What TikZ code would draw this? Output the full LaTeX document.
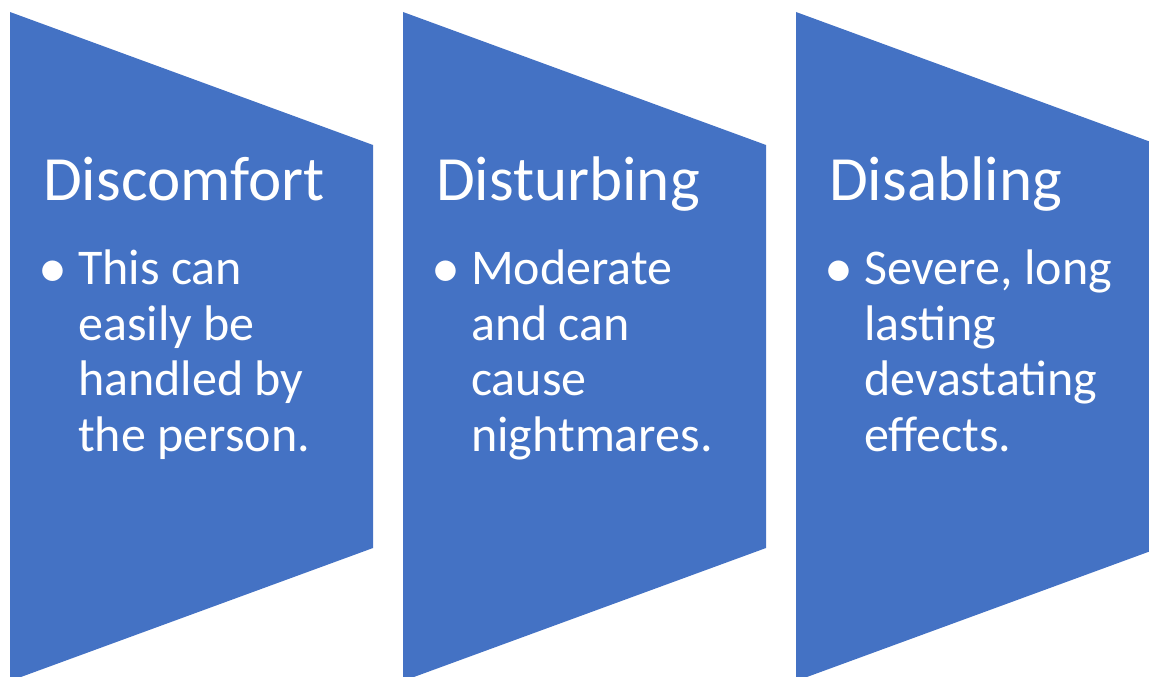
\documentclass[tikz,border=0pt]{standalone}
\usepackage{fontspec}
\setmainfont{Carlito}
\definecolor{stepblue}{HTML}{4472C4}
\begin{document}
\begin{tikzpicture}[x=1pt,y=-1pt,
  chevshape/.style={fill=stepblue,draw=none},
  titletext/.style={anchor=base west,inner sep=0pt,text=white,font=\fontsize{63}{76}\selectfont},
  bodytext/.style={anchor=base west,inner sep=0pt,text=white,align=left,font=\fontsize{50}{55.5}\selectfont},
  bullettext/.style={anchor=base west,inner sep=0pt,text=white,font=\fontsize{58}{64}\selectfont}]
\useasboundingbox (0,0) rectangle (1149,677);
\clip (0,0) rectangle (1149,677);
\foreach \dx in {0,393,786} {
  \fill[chevshape] (10+\dx,12) -- (373+\dx,145) -- (373+\dx,548) -- (10+\dx,681) -- cycle;
}
% column 1
\node[titletext] (t1) at (43,200) {Discomfort};
\node[bullettext] (b1) at (38,287) {•};
\node[bodytext] (x1) at (78,451) {This can\\easily be\\handled by\\the person.};
% column 2
\node[titletext] (t2) at (436,200) {Disturbing};
\node[bullettext] (b2) at (431,287) {•};
\node[bodytext] (x2) at (471,451) {Moderate\\and can\\cause\\nightmares.};
% column 3
\node[titletext] (t3) at (829,200) {Disabling};
\node[bullettext] (b3) at (824,287) {•};
\node[bodytext] (x3) at (864,451) {Severe, long\\lasting\\devastating\\effects.};
\end{tikzpicture}
\end{document}
